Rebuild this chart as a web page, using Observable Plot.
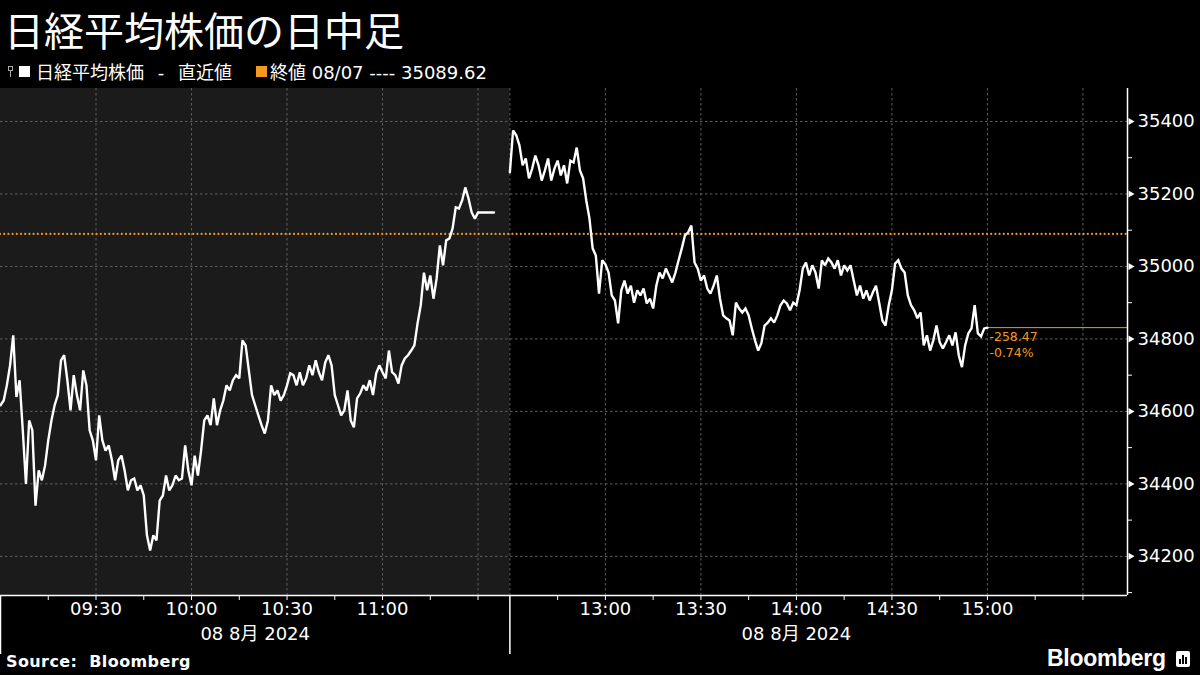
<!DOCTYPE html>
<html>
<head>
<meta charset="utf-8">
<script src="https://cdn.jsdelivr.net/npm/d3@7"></script>
<script src="https://cdn.jsdelivr.net/npm/@observablehq/plot@0.6"></script>
<style>
  html, body { margin: 0; padding: 0; background: #000; }
  body { width: 1200px; height: 675px; overflow: hidden; position: relative; color: #fff; font-family: "DejaVu Sans", "Noto Sans CJK JP", sans-serif; }
  #title { position: absolute; left: 4px; top: 0px; font-family: "Noto Sans CJK JP"; font-size: 40px; line-height: normal; font-weight: 400; white-space: nowrap; }
  #legend { position: absolute; left: 8px; top: 59px; height: 24px; display: flex; align-items: center; font-family: "DejaVu Sans", "Noto Sans CJK JP"; font-size: 18px; white-space: nowrap; }
  #legend .pin { width: 6px; height: 12px; position: relative; margin-right: 5px; }
  #legend .pin::before { content: ""; position: absolute; left: 0; top: 1px; width: 5px; height: 5px; border: 1px solid #aaa; box-sizing: border-box; }
  #legend .pin::after { content: ""; position: absolute; left: 2px; top: 6px; width: 1px; height: 6px; background: #aaa; }
  #legend .sw { width: 11px; height: 11px; margin-right: 6px; }
  #chart { position: absolute; left: 0; top: 88px; }
  #source { position: absolute; left: 6px; top: 652px; font-family: "DejaVu Sans"; font-weight: bold; font-size: 16px; letter-spacing: 0.4px; white-space: nowrap; }
  #brand { position: absolute; left: 1047px; top: 645px; display: flex; align-items: center; }
  #brand .word { font-family: "Liberation Sans", "DejaVu Sans"; font-weight: bold; font-size: 23px; letter-spacing: -0.3px; }
  #brand .icon { margin-left: 10px; width: 14px; height: 16px; background: #fff; border-radius: 2px; position: relative; }
  #brand .icon span { position: absolute; bottom: 3px; width: 2px; background: #000; }
</style>
</head>
<body>
<div id="title">日経平均株価の日中足</div>
<div id="legend"></div>
<div id="chart"></div>
<div id="source">Source:&nbsp; Bloomberg</div>
<div id="brand"><span class="word">Bloomberg</span><span class="icon"><span style="left:3px;height:5px"></span><span style="left:6px;height:9px"></span><span style="left:9px;height:7px"></span></span></div>
<script>
// ---------- data ----------
const seriesName = "日経平均株価 - 直近値";
const prevCloseLabel = "終値 08/07";
const prevClose = 35089.62;

const amOpen = "09:00";
const amHold = "11:35";     // morning close value is held flat until here
const pmOpen = "12:30";
const pmClose = "15:00";
const axisEnd = "15:44";

// one value per minute, 09:00 … 11:30
const morningValues = [
  34617, 34630, 34672, 34727, 34810, 34640, 34686, 34548, 34400, 34575,
  34548, 34340, 34437, 34410, 34451, 34520, 34575, 34617, 34645, 34741,
  34755, 34686, 34603, 34700, 34645, 34603, 34713, 34672, 34548, 34520,
  34465, 34589, 34520, 34492, 34506, 34465, 34410, 34465, 34478, 34437,
  34382, 34410, 34415, 34382, 34396, 34368, 34258, 34216, 34258, 34244,
  34354, 34368, 34423, 34382, 34396, 34423, 34410, 34415, 34506, 34437,
  34396, 34478, 34423, 34492, 34575, 34589, 34562, 34636, 34562, 34603,
  34630, 34672, 34658, 34686, 34700, 34691, 34796, 34782, 34713, 34645,
  34617, 34589, 34562, 34539, 34575, 34672, 34645, 34658, 34630, 34645,
  34672, 34705, 34700, 34672, 34708, 34672, 34691, 34727, 34700, 34741,
  34708, 34686, 34735, 34755, 34727, 34645, 34617, 34589, 34603, 34658,
  34575, 34556, 34636, 34650, 34672, 34658, 34686, 34645, 34705, 34727,
  34708, 34691, 34768, 34708, 34700, 34677, 34727, 34746, 34755, 34768,
  34782, 34843, 34893, 34983, 34934, 34975, 34911, 34967, 35058, 35003,
  35072, 35077, 35105, 35163, 35160, 35182, 35218, 35188, 35149, 35132,
  35149
];

// one value per minute, 12:30 … 15:00
const afternoonValues = [
  35260, 35375, 35362, 35334, 35279, 35298, 35243, 35270, 35306, 35279,
  35237, 35265, 35298, 35237, 35270, 35292, 35251, 35279, 35229, 35292,
  35287, 35328, 35265, 35243, 35182, 35132, 35050, 35030, 34925, 35017,
  35006, 34983, 34920, 34906, 34843, 34934, 34961, 34925, 34947, 34900,
  34934, 34920, 34939, 34898, 34911, 34884, 34947, 34983, 34967, 34994,
  34975, 34956, 34983, 35017, 35050, 35086, 35094, 35113, 35011, 34994,
  34961, 34975, 34939, 34925, 34947, 34975, 34911, 34865, 34857, 34851,
  34810, 34900, 34884, 34873, 34884, 34865, 34829, 34796, 34768, 34788,
  34837, 34845, 34857, 34845, 34865, 34893, 34906, 34898, 34879, 34900,
  34893, 34934, 34994, 35011, 34975, 35003, 34983, 34939, 35017, 35003,
  35022, 35011, 34994, 35017, 34975, 35003, 34989, 35003, 34961, 34920,
  34947, 34911, 34934, 34906, 34928, 34947, 34900, 34851, 34837, 34893,
  34934, 35008, 35017, 34994, 34983, 34920, 34893, 34879, 34857, 34873,
  34782, 34810, 34768, 34796, 34837, 34791, 34774, 34791, 34810, 34782,
  34818, 34755, 34722, 34782, 34815, 34829, 34893, 34815, 34807, 34829,
  34831.15
];

const yDomain = [34092, 35491];
const yMajorTicks = [34200, 34400, 34600, 34800, 35000, 35200, 35400];
const yMinorTicks = [34100, 34300, 34500, 34700, 34900, 35100, 35300];
const xTicks15 = ["09:15","09:30","09:45","10:00","10:15","10:30","10:45","11:00","11:15","11:30",
                  "12:45","13:00","13:15","13:30","13:45","14:00","14:15","14:30","14:45","15:00","15:15","15:30"];
const xGridTimes = ["09:30","10:00","10:30","11:00","11:30","12:30","13:00","13:30","14:00","14:30","15:00","15:30"];
const xLabelTimes = ["09:30","10:00","10:30","11:00","13:00","13:30","14:00","14:30","15:00"];
const sessionBoundaries = ["09:00","12:30"];
const dateLabels = [{at: "10:20", text: "08 8月 2024"}, {at: "14:00", text: "08 8月 2024"}];

// ---------- helpers ----------
const ORANGE = "#f39a1f";
const GRID = "#5f5f5f";
const mins = t => { const [h, m] = t.split(":").map(Number); return h * 60 + m; };
// compressed session axis: the lunch break is cut out at 11:40 → 12:30
const toPos = t => { const m = typeof t === "number" ? t : mins(t); return m <= 700 ? m - 540 : 160 + (m - 750); };

const series = [];
morningValues.forEach((v, i) => series.push({session: "AM", pos: toPos(mins(amOpen) + i), value: v}));
series.push({session: "AM", pos: toPos(amHold), value: morningValues[morningValues.length - 1]});
afternoonValues.forEach((v, i) => series.push({session: "PM", pos: toPos(mins(pmOpen) + i), value: v}));

const last = afternoonValues[afternoonValues.length - 1];
const change = last - prevClose;
const pct = change / prevClose * 100;
const labelByPos = new Map(xLabelTimes.map(t => [toPos(t), t]));

// ---------- legend ----------
document.getElementById("legend").innerHTML =
  `<span class="pin"></span><span class="sw" style="background:#fff"></span><span style="word-spacing:8px">${seriesName}</span>` +
  `<span class="sw" style="background:${ORANGE};margin-left:24px;margin-right:3px"></span><span>${prevCloseLabel} ---- ${prevClose.toFixed(2)}</span>`;

// ---------- chart ----------
const xMax = toPos(axisEnd);
const chart = Plot.plot({
  width: 1200,
  height: 567,
  marginTop: 0,
  marginLeft: 0,
  marginRight: 73,
  marginBottom: 60,
  style: {background: "transparent", color: "#fff", fontFamily: "DejaVu Sans, Noto Sans CJK JP", overflow: "visible"},
  x: {type: "linear", domain: [0, xMax], axis: null},
  y: {type: "linear", domain: yDomain, axis: null},
  marks: [
    Plot.rect([{from: amOpen, to: pmOpen}], {x1: d => toPos(d.from), x2: d => toPos(d.to), y1: () => yDomain[0], y2: () => yDomain[1], fill: "#1b1b1b"}),
    Plot.ruleY(yMajorTicks, {stroke: GRID, strokeDasharray: "2.5,2.5", strokeWidth: 1}),
    Plot.ruleX(xGridTimes, {x: d => toPos(d), stroke: GRID, strokeDasharray: "2.5,2.5", strokeWidth: 1}),
    Plot.ruleY([prevClose], {stroke: ORANGE, strokeWidth: 2.2, strokeDasharray: "0,4.2", strokeLinecap: "round"}),
    Plot.ruleY([last], {x1: () => toPos(pmClose), x2: () => xMax, stroke: ORANGE, strokeWidth: 1}),
    Plot.line(series, {x: "pos", y: "value", z: "session", stroke: "#fff", strokeWidth: 2.4, strokeLinejoin: "miter", strokeMiterlimit: 2}),
    Plot.text([change], {x: () => toPos(pmClose), y: () => last, text: d => d.toFixed(2), dx: 2, dy: 9, textAnchor: "start", fill: ORANGE, fontSize: 12.5}),
    Plot.text([pct], {x: () => toPos(pmClose), y: () => last, text: d => d.toFixed(2) + "%", dx: 2, dy: 25, textAnchor: "start", fill: ORANGE, fontSize: 12.5}),
    // axes
    Plot.ruleX([xMax], {stroke: "#fff", strokeWidth: 1.5}),
    Plot.ruleY([yDomain[0]], {stroke: "#fff", strokeWidth: 1.5}),
    Plot.dot(yMajorTicks, {x: () => xMax, y: d => d, symbol: "triangle", rotate: 90, r: 2.6, fill: "#fff", stroke: null, dx: 3}),
    Plot.axisY({ticks: yMinorTicks, anchor: "right", tickSize: 4, tickFormat: () => "", label: null, stroke: "#fff"}),
    Plot.axisY({ticks: yMajorTicks, anchor: "right", tickSize: 0, tickPadding: 10, fontSize: 18, tickFormat: d => d.toFixed(0), label: null, fill: "#fff"}),
    Plot.axisX({ticks: xTicks15.map(toPos), anchor: "bottom", tickSize: 5, tickFormat: () => "", label: null, stroke: "#fff"}),
    Plot.axisX({ticks: sessionBoundaries.map(toPos), anchor: "bottom", tickSize: 59, tickFormat: () => "", label: null, stroke: "#fff", strokeWidth: 1.5}),
    Plot.axisX({ticks: xLabelTimes.map(toPos), anchor: "bottom", tickSize: 0, tickPadding: 7, fontSize: 18, tickFormat: p => labelByPos.get(p), label: null, fill: "#fff"}),
    Plot.text(dateLabels, {x: d => toPos(d.at), y: () => yDomain[0], text: "text", dy: 39, fontSize: 18, fill: "#fff"})
  ]
});
document.getElementById("chart").appendChild(chart);
</script>
</body>
</html>
